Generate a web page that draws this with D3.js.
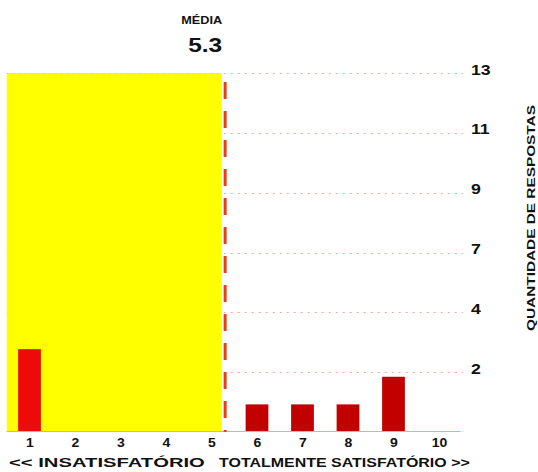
<!DOCTYPE html>
<html>
<head>
<meta charset="utf-8">
<script src="https://cdn.jsdelivr.net/npm/d3@7"></script>
<style>
  html, body { margin: 0; padding: 0; background: #fff; }
  svg { display: block; }
  text { font-family: "Liberation Sans", Arial, Helvetica, sans-serif; font-weight: bold; fill: #111; }
</style>
</head>
<body>
<svg id="chart" width="538" height="472"></svg>
<script>
// ---- data ----
const categories = [1, 2, 3, 4, 5, 6, 7, 8, 9, 10];
const counts     = [3, 0, 0, 0, 0, 1, 1, 1, 2, 0];
const yTickValues = [2.17, 4.33, 6.5, 8.67, 10.83, 13];
const yTickLabels = ["2", "4", "7", "9", "11", "13"];
const yMax = 13;
const mediaShown = 5.3;
const mediaTitle = "MÉDIA";
const leftTitle = "<< INSATISFATÓRIO";
const rightTitle = "TOTALMENTE SATISFATÓRIO >>";
const yAxisTitle = "QUANTIDADE DE RESPOSTAS";

// ---- layout ----
const svg = d3.select("#chart");
const plotLeft = 6.75, plotRight = 461.75, plotTop = 73, plotBottom = 432;

const x = d3.scaleBand().domain(categories).range([plotLeft, plotRight])
  .paddingInner(0.5).paddingOuter(0.25);
const xc = d3.scaleLinear()
  .domain([categories[0], categories[categories.length - 1]])
  .range([x(categories[0]) + x.bandwidth() / 2, x(categories[categories.length - 1]) + x.bandwidth() / 2]);
const y = d3.scaleLinear().domain([0, yMax]).range([plotBottom, plotTop]);

const total = d3.sum(counts);
const meanValue = d3.sum(categories.map((c, i) => c * counts[i])) / total;

// text helper: place text and stretch glyphs horizontally to a target width
function fitText(parent, str, px, py, width, size, anchor, rotate) {
  const t = parent.append("text").attr("font-size", size).text(str);
  const w = t.node().getComputedTextLength();
  const sx = width / w;
  let dx = 0;
  if (anchor === "end") dx = -w;
  else if (anchor === "middle") dx = -w / 2;
  t.attr("x", dx).attr("y", 0);
  t.attr("transform", `translate(${px},${py})${rotate ? ` rotate(${rotate})` : ""} scale(${sx},1)`);
  return t;
}

// gridlines
const grid = svg.append("g");
grid.selectAll("line").data(yTickValues).join("line")
  .attr("x1", plotLeft).attr("x2", 463)
  .attr("y1", d => Math.round(y(d)) + 0.5).attr("y2", d => Math.round(y(d)) + 0.5)
  .attr("stroke", "#eea89c").attr("stroke-width", 1)
  .attr("stroke-dasharray", "2,5");

// yellow "insatisfatório" area up to the mean
svg.append("rect")
  .attr("x", plotLeft).attr("y", y(yMax))
  .attr("width", xc(meanValue) - plotLeft - 1)
  .attr("height", plotBottom - y(yMax))
  .attr("fill", "#ffff00");

// dotted top edge over the yellow
svg.append("line")
  .attr("x1", plotLeft).attr("x2", xc(meanValue) - 1)
  .attr("y1", Math.round(y(yMax)) + 0.5).attr("y2", Math.round(y(yMax)) + 0.5)
  .attr("stroke", "#f2d060").attr("stroke-width", 1)
  .attr("stroke-dasharray", "2,4");

// baseline
svg.append("line")
  .attr("x1", plotLeft).attr("x2", plotRight - 1)
  .attr("y1", plotBottom - 0.5).attr("y2", plotBottom - 0.5)
  .attr("stroke", "#f3a4a0").attr("stroke-width", 1);

// bars
svg.append("g").selectAll("rect").data(categories.map((c, i) => ({ c, v: counts[i] })))
  .join("rect")
  .attr("x", d => x(d.c))
  .attr("width", x.bandwidth())
  .attr("y", d => y(d.v))
  .attr("height", d => Math.max(0, plotBottom - 1 - y(d.v)))
  .attr("fill", d => d.c < meanValue ? "#ec0a0a" : "#c20000");

// mean dashed line
svg.append("line")
  .attr("x1", xc(mediaShown)).attr("x2", xc(mediaShown))
  .attr("y1", 82).attr("y2", plotBottom)
  .attr("stroke", "#e5401c").attr("stroke-width", 3)
  .attr("stroke-dasharray", "17,12");

// mean labels
fitText(svg, mediaTitle, xc(mediaShown) - 3, 24, 41, 10.5, "end");
fitText(svg, mediaShown.toFixed(1), xc(mediaShown) - 3, 52, 34, 21, "end");

// x axis (category numbers)
const xAxis = svg.append("g")
  .attr("transform", `translate(0,${plotBottom})`)
  .call(d3.axisBottom(xc).tickValues(categories).tickSize(0).tickPadding(0).tickFormat(d3.format("d")));
xAxis.select(".domain").remove();
xAxis.selectAll("text")
  .attr("y", 0).attr("dy", 0).attr("x", 0)
  .attr("font-size", 12.5)
  .attr("transform", "translate(0,15) scale(1.12,1)")
  .attr("fill", "#111");

// y axis (right side labels)
const yAxis = svg.append("g")
  .attr("transform", `translate(463,0)`)
  .call(d3.axisRight(y).tickValues(yTickValues).tickSize(0).tickPadding(0)
    .tickFormat((d, i) => yTickLabels[i]));
yAxis.select(".domain").remove();
yAxis.selectAll("text")
  .attr("x", 0).attr("dy", 0).attr("y", 0)
  .attr("font-size", 15)
  .attr("transform", "translate(8,1) scale(1.18,1)")
  .attr("fill", "#111");

// y axis title (rotated; stretch along text direction)
fitText(svg, yAxisTitle, 535, 218, 226, 11, "middle", -90);

// bottom titles
fitText(svg, leftTitle, 9, 467, 196, 13.5, "start");
fitText(svg, rightTitle, 219, 467, 251, 13.5, "start");
</script>
</body>
</html>
